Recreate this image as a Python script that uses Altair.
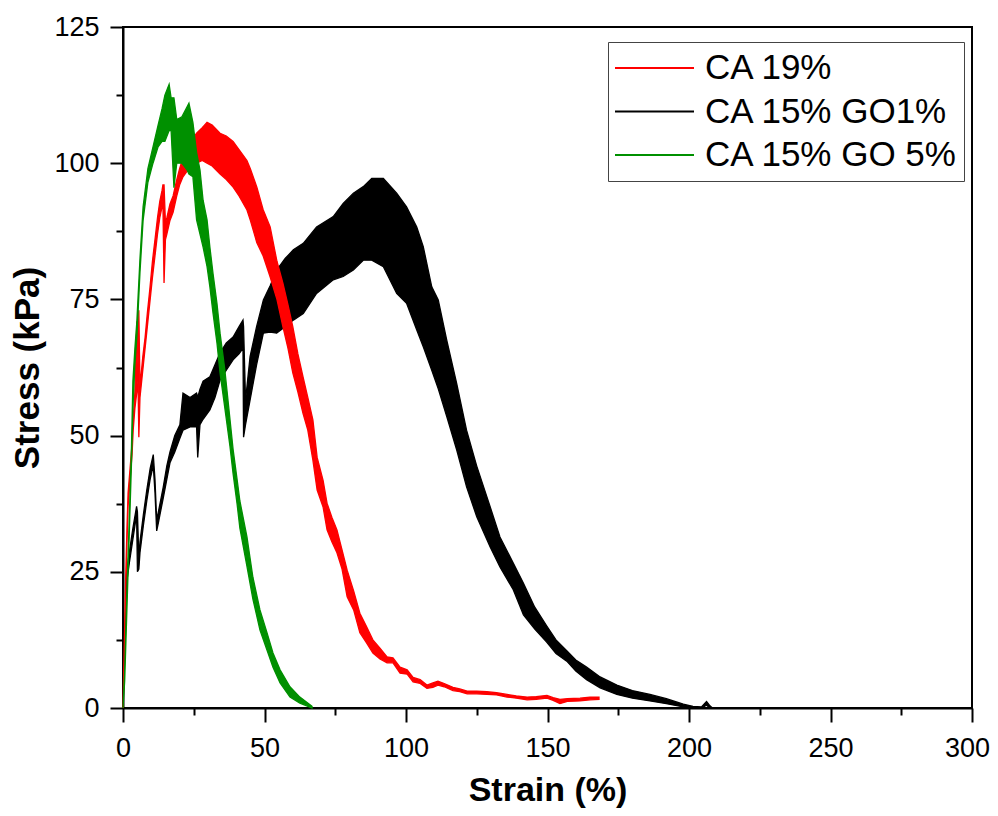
import altair as alt
import pandas as pd

SERIES = ["CA 19%", "CA 15% GO1%", "CA 15% GO 5%"]
COLORS = ["#ff0000", "#000000", "#009000"]

# CA 19% (red): strain %, lower / upper stress (kPa) of the noisy trace
red_strain = [0, 0.4, 0.9, 1.4, 1.8, 2.5, 3.2, 3.6, 4.2, 4.9, 5.3, 5.6, 6, 7, 7.8, 8.6, 9.5, 10.4, 11.3,
              12.2, 13, 13.8, 14.1, 14.5, 15, 15.5, 16.6, 17.7, 19, 20, 21.2, 22.6, 24, 26, 28, 29.7,
              31.5, 34.3, 36.5, 38.9, 41, 43.8, 45, 47.3, 49.5, 52, 54.4, 56.5, 58.3, 60, 61.8, 63.6,
              65.3, 67.1, 68.6, 70.7, 72.1, 73.8, 75.6, 77.4, 79.2, 81.5, 83.7, 86, 88.3, 90.8, 93.3,
              95.4, 97.9, 100.4, 102.5, 105, 107.4, 109.5, 111.3, 113.5, 116.6, 119, 121.6, 125, 128.6,
              132, 135.7, 139, 142.8, 146, 149.8, 152, 154.4, 157, 161.5, 165, 168.2]
red_lo = [0, 8, 20, 30, 37, 42, 46.5, 51, 55, 58, 60, 49.7, 57, 62, 66, 70, 74.5, 79, 83,
          87, 90, 92, 93, 78, 86, 87, 89.5, 91, 94, 96, 97.5, 98.5, 99, 100, 100.5, 100,
          99.5, 98, 97, 95.6, 94, 91.4, 89.5, 85.4, 83, 79.1, 75, 70, 66, 61.5, 58, 54.1,
          51, 45.5, 40, 36.9, 32.7, 30.5, 28.5, 25.5, 20.4, 18, 13.8, 12, 10.1, 9, 8.3,
          8.3, 6.4, 6.2, 4.8, 4.5, 3.6, 3.8, 4.2, 3.9, 3.2, 3, 2.6, 2.6, 2.5,
          2.4, 2, 1.8, 1.5, 1.6, 1.8, 1.4, 0.8, 1.2, 1.3, 1.5, 1.6]
red_hi = [0, 10, 23, 33, 39.5, 44, 48.5, 53, 58, 71, 63, 73, 59, 64.5, 68, 72.5, 77, 82, 86,
          90, 93, 95, 96, 96, 89, 90, 92.5, 94, 97, 99, 101, 102.5, 104, 105.5, 106.5, 107.5,
          107, 105.5, 105, 104, 102.5, 100.5, 99, 95.6, 91.5, 88.3, 82, 78, 74, 70, 65, 60.8,
          57, 52.9, 46, 41.8, 37.6, 35, 32.7, 29, 25.3, 21.5, 17.4, 15, 12.5, 11, 9.4,
          9.2, 7.5, 7, 5.6, 5.2, 4.2, 4.6, 4.9, 4.5, 3.8, 3.5, 3.1, 3.1, 3,
          2.8, 2.5, 2.2, 2, 2.1, 2.3, 1.9, 1.6, 1.7, 1.8, 2, 2]

# CA 15% GO1% (black)
blk_strain = [0, 0.7, 1.3, 2.2, 3.5, 4.8, 5.1, 5.6, 6.0, 7.2, 8.4, 9.6, 10.7, 11.3, 11.9, 12.5, 14.2,
              15.5, 16.6, 18.3, 20.1, 21.2, 23.7, 26.0, 26.4, 27.2, 28.3, 30.7, 32.5, 34.3, 36.5, 38.9,
              41, 42.4, 42.6, 43.3, 44.9, 47.2, 49.6, 52, 54.3, 57.3, 60.2, 63.7, 68.4, 74.3, 77.8,
              81.4, 84.9, 87.9, 92, 96.7, 100.2, 103.8, 106.1, 109.1, 111.4, 114.4, 117.9, 121.4,
              125, 129.7, 133.2, 137.9, 141.5, 145.5, 149.7, 153, 156.8, 160, 163.8, 168.6, 174.5,
              180, 186.2, 192, 198, 201.4, 204.4, 206.2, 207.4, 208.3]
blk_lo = [0, 11, 23, 26.5, 31, 35.5, 25, 25.5, 28.5, 33.5, 38, 42, 44.5, 39.5, 32.5, 34, 38.5,
          42, 45, 47, 49.5, 51, 51.6, 51.6, 46, 52, 53, 54.7, 57, 60.2, 62, 63.9,
          65, 66, 49.7, 52, 56.5, 63, 68.8, 69, 68.8, 70, 71.2, 72.4, 76.1, 78.6, 79.2,
          80.4, 82.2, 82.2, 81, 76.1, 74.3, 69.4, 66.3, 62, 58.6, 53.5, 47.4, 40.6,
          35.1, 29.6, 25.9, 21.7, 17.1, 14.5, 12.1, 10, 8.6, 6.8, 5.2, 3.7, 2.5,
          1.8, 1.3, 0.8, 0.2, 0, 0, 0.5, 0, 0]
blk_hi = [0, 13, 25, 28.5, 33, 37, 36, 27.5, 30.5, 35.5, 40, 44, 46.5, 42, 34.5, 36, 40.5,
          44.5, 47, 50, 52, 57.8, 57, 57.8, 57, 58.5, 60, 60.8, 63, 65.2, 67, 68.1,
          70, 71.2, 70, 56.5, 64.5, 70, 74.9, 77.5, 80.4, 82.5, 84.1, 85.3, 88.3, 90.2, 92.6,
          94.5, 95.7, 97.2, 97.2, 94.5, 92, 88.3, 84.7, 77.3, 74.9, 67.5, 59.6, 51,
          44.4, 37, 31.4, 26.6, 22.9, 18.5, 15.1, 12.5, 10.5, 8.8, 7.5, 5.7, 4.2,
          3.2, 2.5, 1.7, 0.7, 0.3, 0.2, 1.2, 0.4, 0]

# CA 15% GO 5% (green)
grn_strain = [0, 0.6, 1.2, 1.8, 2.4, 3.0, 3.5, 4.2, 4.9, 6, 7.1, 8.8, 10.6, 12.4, 13.8, 14.8, 16.3,
              17, 18, 19, 20.8, 22.6, 23.3, 24.7, 26, 27.2, 28.3, 29.7, 30.7, 31.8, 33.2, 34.3, 36,
              37.8, 38.9, 40.3, 41.3, 43.8, 45.9, 48.4, 50.9, 53, 55.5, 59, 62.5, 66.8]
grn_lo = [0, 5, 15, 25, 35, 45, 55, 63, 68, 80, 89.5, 96.5, 100, 103, 104, 104, 106,
          106, 95.5, 100, 100, 98.8, 98, 97.5, 89.6, 87, 84.6, 81, 77.3, 72.5, 67, 61.5, 55,
          48, 43, 37.5, 33, 26, 20, 14.3, 10.6, 7.5, 4.6, 2, 0.9, 0]
grn_hi = [0, 7, 18, 28, 38, 48, 60, 66, 71, 82.5, 92, 99, 103, 107, 110, 112.5, 114.5,
          112, 112, 108, 108.5, 110.3, 111, 107.5, 102, 98.8, 93.2, 89.6, 84.6, 79.8, 74.3, 68.8, 62,
          53, 47.5, 42, 38, 31.4, 24, 18, 13.8, 10.1, 7, 3.9, 2, 0.3]

x_ticks = [0, 25, 50, 75, 100, 125, 150, 175, 200, 225, 250, 275, 300]
y_ticks = [0, 12.5, 25, 37.5, 50, 62.5, 75, 87.5, 100, 112.5, 125]


def frame(name, s, lo, hi):
    return pd.DataFrame({"series": name, "strain": s, "lo": lo, "hi": hi})


df_red = frame(SERIES[0], red_strain, red_lo, red_hi)
df_blk = frame(SERIES[1], blk_strain, blk_lo, blk_hi)
df_grn = frame(SERIES[2], grn_strain, grn_lo, grn_hi)

FONT = "Liberation Sans"

x_enc = alt.X(
    "strain:Q",
    scale=alt.Scale(domain=[0, 300], nice=False),
    axis=alt.Axis(
        values=x_ticks,
        labelExpr="datum.value % 50 === 0 ? datum.label : ''",
        tickSize={"condition": {"test": "datum.value % 50 === 0", "value": 14}, "value": 7},
        labelOffset={"condition": {"test": "datum.value === 300", "value": -5}, "value": 0},
        title="Strain (%)",
        titleX=424.5,
        titleY=92,
        titleFontSize=34,
        titleBaseline="alphabetic",
        titleAlign="center",
        labelBaseline="alphabetic",
        labelPadding=34,
    ),
)
y_enc = alt.Y(
    "lo:Q",
    stack=None,
    scale=alt.Scale(domain=[0, 125], nice=False),
    axis=alt.Axis(
        values=y_ticks,
        labelExpr="datum.value % 25 === 0 ? datum.label : ''",
        tickSize={"condition": {"test": "datum.value % 25 === 0", "value": 13}, "value": 7},
        title="Stress (kPa)",
        titleAngle=270,
        titleX=-85,
        titleY=340.5,
        titleAlign="center",
        titleBaseline="alphabetic",
        labelPadding=11,
    ),
)
color_enc = alt.Color(
    "series:N",
    scale=alt.Scale(domain=SERIES, range=COLORS),
    legend=alt.Legend(
        title=None,
        orient="none",
        legendX=485,
        legendY=15,
        symbolType="stroke",
        symbolSize=6241,
        symbolStrokeWidth=2,
        labelFont=FONT,
        labelFontSize=35,
        labelColor="#000000",
        labelOffset=10,
        clipHeight=40,
        rowPadding=3.5,
        padding=6,
        strokeColor="#444444",
        fillColor="#ffffff",
        labelLimit=400,
    ),
)
stroke_enc = alt.Stroke("series:N", scale=alt.Scale(domain=SERIES, range=COLORS), legend=None)


def band(df):
    return alt.Chart(df).mark_area(
        strokeWidth=1.3, opacity=1, fillOpacity=1, strokeJoin="miter", orient="vertical"
    ).encode(x=x_enc, y=y_enc, y2="hi:Q", color=color_enc, stroke=stroke_enc)


chart = (
    alt.layer(band(df_blk), band(df_red), band(df_grn))
    .properties(
        width=849,
        height=681,
        autosize=alt.AutoSizeParams(type="none"),
        padding={"left": 115, "top": 19, "right": 18, "bottom": 100},
    )
    .configure_view(stroke="#000000", strokeWidth=2)
    .configure_axis(
        grid=False,
        domainColor="#000000",
        domainWidth=2,
        tickColor="#000000",
        tickWidth=2,
        labelFont=FONT,
        labelFontSize=27,
        labelColor="#000000",
        titleFont=FONT,
        titleFontSize=35,
        titleFontWeight="bold",
        titleColor="#000000",
        labelFlush=False,
        labelOverlap=False,
    )
)

chart.save("out.html", embed_options={"renderer": "svg", "actions": False})
